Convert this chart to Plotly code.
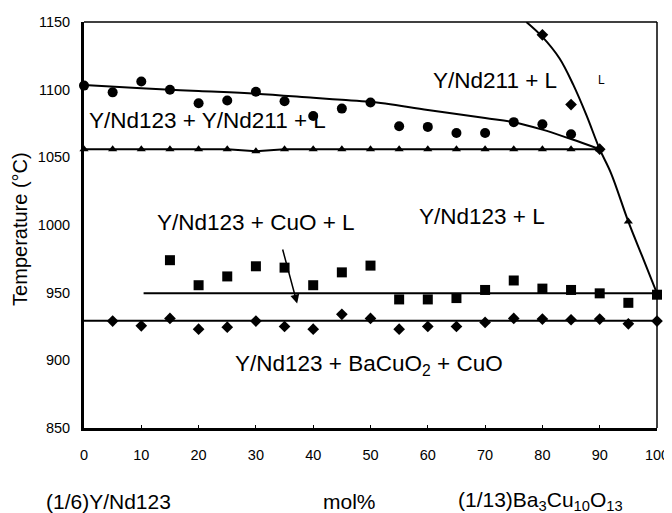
import plotly.graph_objects as go

# ---- data ----
circle_x = [0, 5, 10, 15, 20, 25, 30, 35, 40, 45, 50, 55, 60, 65, 70, 75, 80, 85]
circle_T = [1103, 1098, 1106, 1100, 1090, 1092, 1098.5, 1091.5, 1080.5, 1086, 1090.5, 1073, 1072.5, 1068, 1068, 1076, 1074.5, 1067]

tri_x = [0, 5, 10, 15, 20, 25, 30, 35, 40, 45, 50, 55, 60, 65, 70, 75, 80, 85, 90, 95]
tri_T = [1056, 1056, 1056, 1056, 1056, 1056, 1054.5, 1056, 1056, 1056, 1056, 1056, 1056, 1056, 1056, 1056, 1056, 1056, 1056, 1002.5]

sq_x = [15, 20, 25, 30, 35, 40, 45, 50, 55, 60, 65, 70, 75, 80, 85, 90, 95, 100]
sq_T = [974, 955.5, 962, 969.5, 968.5, 955.5, 965, 970, 945, 945, 946, 952, 959, 953, 952, 949.5, 942.5, 948.5]

dia_x = [5, 10, 15, 20, 25, 30, 35, 40, 45, 50, 55, 60, 65, 70, 75, 80, 85, 90, 95, 100]
dia_T = [929, 925.5, 931, 923, 924.5, 929, 925, 923, 934, 931, 923, 925, 925, 928, 931, 930.5, 930, 930.5, 927, 929]

liq_dia_x = [80, 85, 90]
liq_dia_T = [1140.5, 1089, 1056]

# fitted boundary curves
upper_x = [0, 10, 20, 30, 40, 45, 50, 60, 70, 75, 80, 85, 90]
upper_T = [1103.5, 1101, 1099, 1097, 1094, 1092.5, 1091, 1085, 1079, 1076, 1070.5, 1063.5, 1056]

eut_x = [0, 5, 10, 15, 20, 25, 30, 35, 40, 45, 50, 55, 60, 65, 70, 75, 80, 85, 90]
eut_T = [1056, 1056, 1056, 1056, 1056, 1056, 1054.5, 1056, 1056, 1056, 1056, 1056, 1056, 1056, 1056, 1056, 1056, 1056, 1056]

liq_x = [77.2, 80, 83, 85.4, 87.7, 90, 92, 95, 97.6, 100]
liq_T = [1150, 1139, 1123, 1103.5, 1081, 1056, 1038, 1002.5, 975, 949.5]

sq_line_x = [10.4, 100]
sq_line_T = [949.5, 949.5]

dia_line_x = [0, 100]
dia_line_T = [929.3, 929.3]

x_ticks = [0, 10, 20, 30, 40, 50, 60, 70, 80, 90, 100]
y_ticks = [850, 900, 950, 1000, 1050, 1100, 1150]

FONT = "Liberation Sans, Arial, sans-serif"

fig = go.Figure()

def line(x, y, shape="linear"):
    fig.add_trace(go.Scatter(x=x, y=y, mode="lines", line=dict(color="black", width=2, shape=shape),
                             hoverinfo="skip", showlegend=False, cliponaxis=True))

line(upper_x, upper_T, "spline")
line(eut_x, eut_T)
line(liq_x, liq_T, "spline")
line(sq_line_x, sq_line_T)
line(dia_line_x, dia_line_T)

def pts(x, y, symbol, size):
    fig.add_trace(go.Scatter(x=x, y=y, mode="markers",
                             marker=dict(symbol=symbol, size=size, color="black"),
                             showlegend=False, cliponaxis=False))

pts(circle_x, circle_T, "circle", 10)
pts(tri_x, tri_T, "triangle-up", 8)
pts(sq_x, sq_T, "square", 10)
pts(dia_x, dia_T, "diamond", 9)
pts(liq_dia_x, liq_dia_T, "diamond", 9)

big = dict(family=FONT, size=22.5, color="black")
bottom = dict(family=FONT, size=21, color="black")
region_labels = [
    (71.7, 1107, "Y/Nd211 + L", big),
    (90.3, 1107, "L", dict(family=FONT, size=12, color="black")),
    (21.5, 1077.5, "Y/Nd123 + Y/Nd211 + L", big),
    (30.0, 1002, "Y/Nd123 + CuO + L", big),
    (69.5, 1006, "Y/Nd123 + L", big),
    (49.7, 896.5, "Y/Nd123 + BaCuO<sub>2</sub> + CuO", big),
]
for x, y, t, f in region_labels:
    fig.add_annotation(x=x, y=y, xref="x", yref="y", text=t, showarrow=False, font=f,
                       xanchor="center", yanchor="middle")

outer_labels = [
    (-0.112, 0.49, "Temperature (°C)", dict(family=FONT, size=20, color="black"), -90),
    (0.043, -0.18, "(1/6)Y/Nd123", bottom, 0),
    (0.4625, -0.18, "mol%", bottom, 0),
    (0.796, -0.18, "(1/13)Ba<sub>3</sub>Cu<sub>10</sub>O<sub>13</sub>", bottom, 0),
]
for x, y, t, f, ang in outer_labels:
    fig.add_annotation(x=x, y=y, xref="paper", yref="paper", text=t, showarrow=False, font=f,
                       textangle=ang, xanchor="center", yanchor="middle")

# arrow
fig.add_annotation(x=37.2, y=942, ax=34.6, ay=983, xref="x", yref="y", axref="x", ayref="y",
                   text="", showarrow=True, arrowhead=2, arrowsize=1.2, arrowwidth=1.5, arrowcolor="black")

# thin top/right border
fig.add_shape(type="line", xref="paper", yref="paper", x0=0, y0=1, x1=1, y1=1, line=dict(color="black", width=1.5))
fig.add_shape(type="line", xref="paper", yref="paper", x0=1, y0=0, x1=1, y1=1, line=dict(color="black", width=1.5))

# the page places the figure 8px in from the top-left corner, so the figure is 8px smaller
fig.update_layout(
    width=664, height=505,
    margin=dict(l=76, r=15, t=14, b=85, autoexpand=False),
    paper_bgcolor="white", plot_bgcolor="white",
    font=dict(family=FONT, color="black"),
    xaxis=dict(range=[0, 100], tickvals=x_ticks, showgrid=False, zeroline=False, automargin=False,
               showline=True, linecolor="black", linewidth=3, ticks="inside", ticklen=3, tickcolor="black",
               tickfont=dict(family=FONT, size=14.5, color="black"), ticklabelstandoff=12),
    yaxis=dict(range=[850, 1150], tickvals=y_ticks, showgrid=False, zeroline=False, automargin=False,
               showline=True, linecolor="black", linewidth=3, ticks="",
               tickfont=dict(family=FONT, size=14.5, color="black"), ticklabelstandoff=8),
)

fig.write_html("out.html")
